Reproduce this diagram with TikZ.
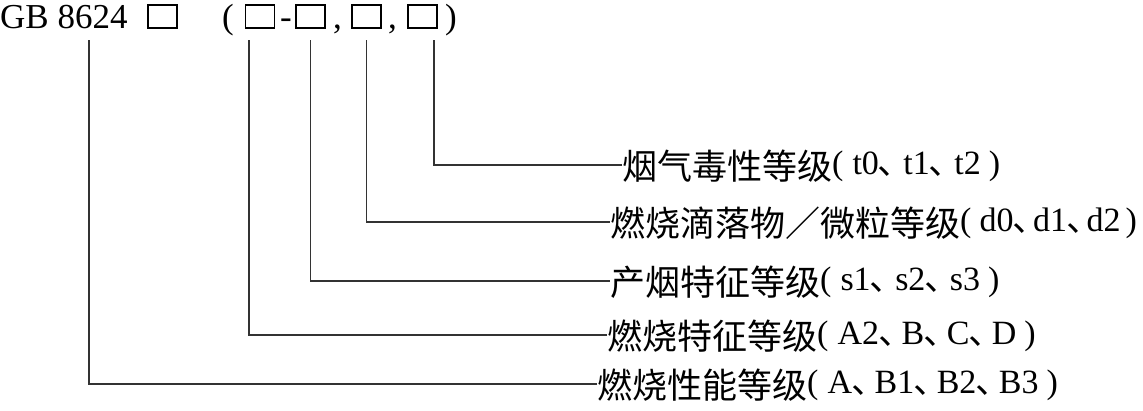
\documentclass[tikz,border=0pt]{standalone}
\usepackage{fontspec}
\setmainfont{Liberation Serif}
\newfontfamily\cjk{Noto Sans CJK SC}
\usetikzlibrary{calc}

% CJK run, set a bit lower than the Latin baseline
\newcommand\zh[1]{\raisebox{-5pt}{\fontsize{35}{40}\cjk #1}}
% half-width list mark; optional arg = extra gap after it
\newcommand\dun[1][3pt]{{\fontsize{35}{40}\cjk ､}\hspace{#1}}

\begin{document}
\begin{tikzpicture}[x=1pt,y=-1pt,
  topchar/.style={inner sep=0pt, anchor=base, font=\fontsize{35}{40}\selectfont},
  slot/.style={draw, line width=1.2pt, minimum width=29pt, minimum height=23pt, inner sep=0pt},
  lbl/.style={anchor=west, inner sep=0pt, text height=26pt, text depth=8pt, font=\fontsize{34}{38}\selectfont},
  lead/.style={line width=1.3pt, black!80}]
\useasboundingbox (0,0) rectangle (1143,410);
% code line: GB 8624 [] ([]-[],[],[])
\node[topchar, anchor=base west] (gb) at (0,28) {GB 8624};
\node[slot] (b0) at (162.5,16.5) {};
\node[topchar] (lp) at (228,28) {(};
\node[slot] (b1) at (260,16.5) {};
\node[topchar] (dash) at (286,28) {-};
\node[slot] (b2) at (310.5,16.5) {};
\node[topchar] (cm1) at (337.5,28) {,};
\node[slot] (b3) at (366.5,16.5) {};
\node[topchar] (cm2) at (392.5,28) {,};
\node[slot] (b4) at (422.5,16.5) {};
\node[topchar] (rp) at (451,28) {)};
% where the leads leave the code line
\coordinate (top0) at (89,40);
\coordinate (top1) at (249,40);
\coordinate (top2) at (310.5,40);
\coordinate (top3) at (366.5,40);
\coordinate (top4) at (434,40);
% class labels, one per row
\node[lbl] (lt) at (622,165) {\zh{烟气毒性等级}(\hspace{9pt}t0\dun[7pt]t1\dun[7pt]t2\hspace{8pt})};
\node[lbl] (ld) at (610,222) {\zh{燃烧滴落物／微粒等级}(\hspace{8pt}d0\dun[2pt]d1\dun[2pt]d2\hspace{5pt})};
\node[lbl] (ls) at (610,281) {\zh{产烟特征等级}(\hspace{9pt}s1\dun[7pt]s2\dun[7pt]s3\hspace{8pt})};
\node[lbl] (lc) at (607,335) {\zh{燃烧特征等级}(\hspace{9pt}A2\dun[5pt]B\dun[5pt]C\dun[5pt]D\hspace{8pt})};
\node[lbl] (lf) at (597,384) {\zh{燃烧性能等级}(\hspace{9pt}A\dun[5pt]B1\dun[5pt]B2\dun[5pt]B3\hspace{8pt})};
\draw[lead] (top4) |- (lt.west);
\draw[lead] (top3) |- (ld.west);
\draw[lead] (top2) |- (ls.west);
\draw[lead] (top1) |- (lc.west);
\draw[lead] (top0) |- (lf.west);
\end{tikzpicture}
\end{document}
